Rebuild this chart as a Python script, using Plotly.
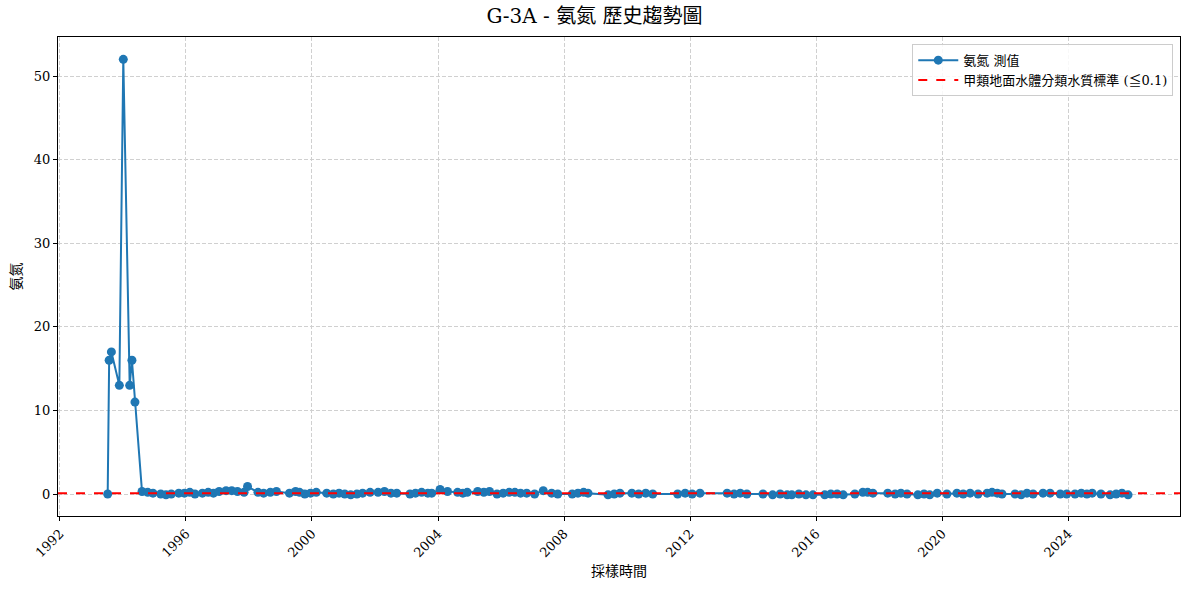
import plotly.graph_objects as go

# Sampling dates and measured ammonia-nitrogen values (mg/L)
dates = [
    "1993-07-08", "1993-07-25", "1993-08-20", "1993-11-20", "1994-01-05",
    "1994-03-20", "1994-04-15", "1994-05-20", "1994-08-10", "1994-10-15",
    "1994-12-15", "1995-03-15", "1995-05-15", "1995-07-15", "1995-10-10",
    "1995-12-15", "1996-02-15", "1996-04-15", "1996-07-10", "1996-09-15",
    "1996-11-15", "1997-01-20", "1997-04-10", "1997-06-15", "1997-08-20",
    "1997-11-05", "1997-12-15", "1998-04-15", "1998-06-20", "1998-09-05",
    "1998-11-15", "1999-04-15", "1999-06-25", "1999-08-10", "1999-10-10",
    "1999-12-15", "2000-02-20", "2000-06-20", "2000-09-05", "2000-11-10",
    "2001-01-15", "2001-03-25", "2001-06-05", "2001-08-10", "2001-11-05",
    "2002-02-05", "2002-04-20", "2002-07-05", "2002-09-10", "2003-02-10",
    "2003-04-15", "2003-06-25", "2003-09-05", "2003-10-20", "2004-01-25",
    "2004-04-20", "2004-08-15", "2004-10-15", "2004-12-05", "2005-04-05",
    "2005-06-15", "2005-08-20", "2005-11-15", "2006-01-25", "2006-04-05",
    "2006-06-10", "2006-08-15", "2006-10-25", "2007-01-25", "2007-05-05",
    "2007-08-10", "2007-10-20", "2008-04-05", "2008-06-10", "2008-08-15",
    "2008-10-05", "2009-05-25", "2009-08-05", "2009-10-10", "2010-02-25",
    "2010-05-15", "2010-08-05", "2010-10-25", "2011-08-10", "2011-11-05",
    "2012-01-25", "2012-04-25", "2013-03-05", "2013-05-25", "2013-08-05",
    "2013-10-20", "2014-04-25", "2014-08-15", "2014-11-10", "2015-01-30",
    "2015-03-25", "2015-06-15", "2015-09-05", "2015-11-25", "2016-04-10",
    "2016-06-20", "2016-09-01", "2016-11-10", "2017-03-25", "2017-06-25",
    "2017-08-20", "2017-10-20", "2018-04-10", "2018-07-05", "2018-09-10",
    "2018-11-20", "2019-03-25", "2019-06-05", "2019-08-10", "2019-11-05",
    "2020-02-25", "2020-06-20", "2020-09-01", "2020-11-20", "2021-02-20",
    "2021-06-05", "2021-08-01", "2021-10-01", "2021-11-25", "2022-04-25",
    "2022-07-05", "2022-09-10", "2022-11-20", "2023-03-15", "2023-06-05",
    "2023-10-01", "2023-12-15", "2024-03-20", "2024-06-01", "2024-08-05",
    "2024-10-05", "2025-01-15", "2025-05-01", "2025-07-10", "2025-09-15",
    "2025-11-25",
]
values = [
    0.0, 16.0, 17.0, 13.0, 52.0,
    13.0, 16.0, 11.0, 0.3, 0.2,
    0.1, 0.0, -0.1, 0.0, 0.1,
    0.1, 0.2, 0.0, 0.1, 0.2,
    0.1, 0.3, 0.4, 0.4, 0.3,
    0.2, 0.9, 0.2, 0.1, 0.2,
    0.3, 0.1, 0.3, 0.2, 0.0,
    0.1, 0.2, 0.1, 0.0, 0.1,
    0.0, -0.1, 0.0, 0.1, 0.2,
    0.2, 0.3, 0.1, 0.1, 0.0,
    0.1, 0.2, 0.1, 0.1, 0.55,
    0.3, 0.2, 0.1, 0.2, 0.3,
    0.2, 0.3, 0.0, 0.1, 0.2,
    0.2, 0.1, 0.1, 0.0, 0.4,
    0.1, 0.0, 0.0, 0.1, 0.2,
    0.1, -0.1, 0.0, 0.1, 0.1,
    0.0, 0.1, 0.0, 0.0, 0.1,
    0.0, 0.1, 0.1, 0.0, 0.1,
    0.0, 0.0, -0.1, 0.0, -0.1,
    -0.1, 0.0, -0.1, -0.1, -0.1,
    0.0, 0.0, -0.1, 0.0, 0.2,
    0.2, 0.1, 0.1, 0.0, 0.1,
    0.0, -0.1, 0.0, -0.1, 0.1,
    0.0, 0.1, 0.0, 0.1, 0.0,
    0.1, 0.2, 0.1, 0.0, 0.0,
    -0.1, 0.1, 0.0, 0.1, 0.1,
    0.0, 0.0, 0.0, 0.1, 0.0,
    0.1, 0.0, -0.1, 0.0, 0.1,
    -0.1,
]

standard_value = 0.1
series_name = "氨氮 測值"
standard_name = "甲類地面水體分類水質標準 (≦0.1)"
title_text = "G-3A - 氨氮 歷史趨勢圖"
x_title = "採樣時間"
y_title = "氨氮"
y_ticks = [0, 10, 20, 30, 40, 50]

FONT = "DejaVu Serif, Noto Sans CJK TC, serif"
BLUE = "#1f77b4"

fig = go.Figure()
fig.add_trace(go.Scatter(
    x=dates, y=values, mode="lines+markers", name=series_name,
    line=dict(color=BLUE, width=2),
    marker=dict(color=BLUE, size=9),
))

fig.add_shape(
    type="line", xref="paper", x0=0, x1=1, yref="y",
    y0=standard_value, y1=standard_value,
    line=dict(color="red", width=2, dash="dash"),
    showlegend=True, name=standard_name,
)

axis_common = dict(
    showline=True, linecolor="black", linewidth=1, mirror=True,
    ticks="outside", ticklen=4, tickcolor="black", tickwidth=1,
    showgrid=True, gridcolor="#d0d0d0", griddash="4px,2px", gridwidth=1,
    zeroline=False, automargin=False,
    tickfont=dict(family=FONT, size=13, color="black"),
)

fig.update_layout(
    width=1189, height=590,
    paper_bgcolor="white", plot_bgcolor="white",
    margin=dict(l=58, r=9, t=37, b=74),
    font=dict(family=FONT, color="black"),
    title=dict(text=title_text, x=0.5, xanchor="center", y=0.985, yanchor="top",
               font=dict(family=FONT, size=20, color="black")),
    xaxis=dict(
        **axis_common,
        type="date",
        range=["1991-12-10", "2027-07-20"],
        tick0="1992-01-01", dtick="M48", tickformat="%Y", tickangle=-45,
        title=dict(text=x_title, font=dict(family=FONT, size=14), standoff=6),
    ),
    yaxis=dict(
        **axis_common,
        range=[-2.63, 54.67],
        tickvals=y_ticks,
        title=dict(text=y_title, font=dict(family=FONT, size=14), standoff=8),
    ),
    legend=dict(
        x=0.994, xanchor="right", y=0.985, yanchor="top",
        bgcolor="rgba(255,255,255,0.85)", bordercolor="#cccccc", borderwidth=1,
        font=dict(family=FONT, size=13, color="black"),
        tracegroupgap=0, itemwidth=40,
    ),
)

fig.write_html(
    "out.html",
    config={"responsive": False, "displayModeBar": False},
    post_script="document.body.style.margin='0';document.body.style.overflow='hidden';",
)
